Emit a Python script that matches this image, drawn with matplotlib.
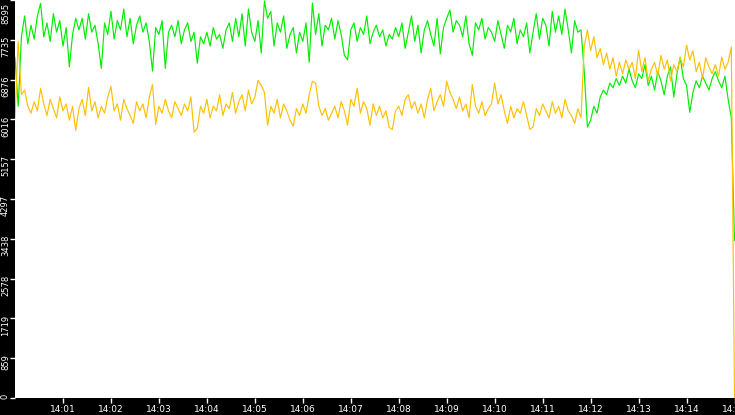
import numpy as np
import matplotlib
matplotlib.use("Agg")
import matplotlib.pyplot as plt
import matplotlib.transforms as mtransforms

# ---- data (sampled every 4 s starting 14:00:00) ----
sample_seconds = 4

green = [
    7350, 6300, 7800, 8250, 7650, 8050, 7750, 8250, 8520, 7800,
    8100, 7700, 8300, 7900, 8150, 7600, 8000, 7150, 7850, 8200,
    7950, 8200, 7750, 8300, 7900, 8050, 7650, 7120, 8100, 7850,
    8350, 7750, 8150, 7950, 8400, 7800, 8200, 7650, 8050, 8250,
    7900, 8100, 7700, 7060, 8000, 7850, 8150, 7120, 7900, 8050,
    7800, 8150, 7650, 7950, 8100, 7700, 7900, 7230, 7800, 7650,
    7900, 7600, 8000, 7750, 7850, 7550, 7950, 8100, 7700, 8200,
    7800, 8300, 7600, 8400, 7900, 7700, 8150, 7450, 8570, 8200,
    8350, 7600, 8100, 7900, 8250, 7550, 7850, 8000, 7450, 7900,
    7700, 8100, 7250, 8530, 7850, 8300, 7600, 8050, 7950, 8200,
    7750, 8150, 7850, 7400, 7300, 7950, 8100, 7700, 8000, 7850,
    8250, 7650, 7900, 8050, 7800, 7950, 7600, 7850, 7750, 8000,
    7800, 8100, 7550, 7900, 8250, 7700, 8050, 7450, 7950, 8150,
    7850, 7600, 8200, 7430, 8000, 8200, 8380, 7900, 8150, 8050,
    7800, 8250, 7650, 7400, 8100, 7950, 8200, 7750, 8000, 7900,
    7700, 8150, 7850, 7550, 8050, 7900, 8200, 7650, 7950, 7800,
    8100, 7450, 7900, 8300, 7750, 8200, 8050, 7600, 8350, 7900,
    8250, 7850, 8400, 7950, 7450, 8150, 7900, 7950,
    7050, 5850, 6000, 6300, 6150, 6500, 6650, 6550, 6800, 6700, 6900, 6750,
    6950, 6800, 7100, 6850, 6700, 7000, 6900, 7200, 6750, 6950,
    6650, 7050, 6850, 6550, 6950, 7150, 6500, 7000, 7360, 6900,
    6750, 6170, 6600, 6850, 6700, 6950, 6800, 6650, 6900, 7050,
    6850, 6700, 6950, 6450, 6050, 3400,
]

orange = [
    6050, 7700, 6550, 6650, 6300, 6150, 6400, 6200, 6690, 6350,
    6100, 6450, 6250, 6050, 6500, 6200, 6350, 6000, 6300, 5780,
    6250, 6450, 6100, 6710, 6200, 6400, 6050, 6300, 6150, 6500,
    6730, 6200, 6350, 6000, 6450, 6250, 6100, 5930, 6400, 6200,
    6350, 6050, 6500, 6770, 5910, 6300, 6150, 6450, 6200, 6050,
    6400, 6250, 6100, 6350, 6200, 6500, 5740, 5825, 6300, 6150,
    6450, 6050, 6300, 6200, 6550, 6100, 6350, 6250, 6600, 6150,
    6400, 6550, 6200, 6650, 6350, 6500, 6860, 6750, 6600, 5890,
    6300, 6150, 6450, 6050, 6350, 6200, 6000, 5870, 6250, 6100,
    6350, 6150, 6550, 6840, 6800, 6300, 6100, 6250, 6000, 6150,
    6300, 6050, 6400, 6200, 5890, 6450, 6300, 6690, 6150, 6400,
    6250, 5890, 6350, 6100, 6300, 6050, 6200, 5845, 5800, 6200,
    6300, 6100, 6450, 6550, 6250, 6400, 6150, 6350, 6050, 6450,
    6690, 6200, 6400, 6550, 6300, 6840, 6600, 6450, 6250, 6500,
    6200, 6350, 6050, 6770, 6300, 6150, 6400, 6100, 6250, 6350,
    6800, 6350, 6550, 6200, 5930, 6300, 6050, 6250, 6150, 6400,
    6100, 5800, 5850, 6250, 6100, 6350, 6200, 6050, 6400, 6150,
    6300, 6050, 6450, 6200, 6100, 5930, 6250, 6050,
    7600, 7950, 7500, 7800, 7350, 7550, 7200, 7450, 7100, 7350, 6950, 7250,
    7000, 7300, 7100, 7250, 6900, 7510, 7050, 7350, 6850, 7100,
    7250, 6950, 7400, 7100, 7300, 6850, 7200, 7050, 7350, 7150,
    7620, 7300, 7500, 7050, 7250, 6900, 7350, 7150, 7000, 7200,
    6950, 7360, 7100, 7250, 7580, 0,
]

y_max = 8595
y_tick_labels = ["0", "859", "1719", "2578", "3438", "4297",
                 "5157", "6016", "6876", "7735", "8595"]
x_tick_labels = ["14:01", "14:02", "14:03", "14:04", "14:05", "14:06", "14:07",
                 "14:08", "14:09", "14:10", "14:11", "14:12", "14:13", "14:14",
                 "14:15"]

# ---- figure ----
W, H = 735, 415
fig = plt.figure(figsize=(W / 100, H / 100), dpi=100, facecolor="black")
ax = fig.add_axes([15 / W, 17 / H, 720 / W, 398 / H])
ax.set_facecolor("white")
for s in ax.spines.values():
    s.set_visible(False)

t_green = np.arange(len(green)) * sample_seconds / 60.0
t_orange = np.arange(len(orange)) * sample_seconds / 60.0
ax.plot(t_green, green, color="#00ee00", lw=0.85)
ax.plot(t_orange, orange, color="#ffc000", lw=0.85)

ax.set_xlim(0, 15.01)
ax.set_ylim(0, y_max)

ax.set_yticks(np.linspace(0, y_max, len(y_tick_labels)))
ax.set_yticklabels(y_tick_labels)
ax.set_xticks(np.arange(1, len(x_tick_labels) + 1))
ax.set_xticklabels(x_tick_labels)

ax.tick_params(axis="y", colors="white", length=3.6, width=1, pad=0,
               labelsize=6, labelrotation=90)
ax.tick_params(axis="x", colors="white", length=3.6, width=1, pad=1.2,
               labelsize=6.5)

ylabs = ax.get_yticklabels()
for k, lab in enumerate(ylabs):
    lab.set_va("top")
    lab.set_ha("right")
    dy = 4 if k < len(ylabs) - 1 else -3   # top label kept inside the figure
    off = mtransforms.ScaledTranslation(0, dy / 100, fig.dpi_scale_trans)
    lab.set_transform(lab.get_transform() + off)

fig.savefig("out.png", dpi=100, facecolor="black")
